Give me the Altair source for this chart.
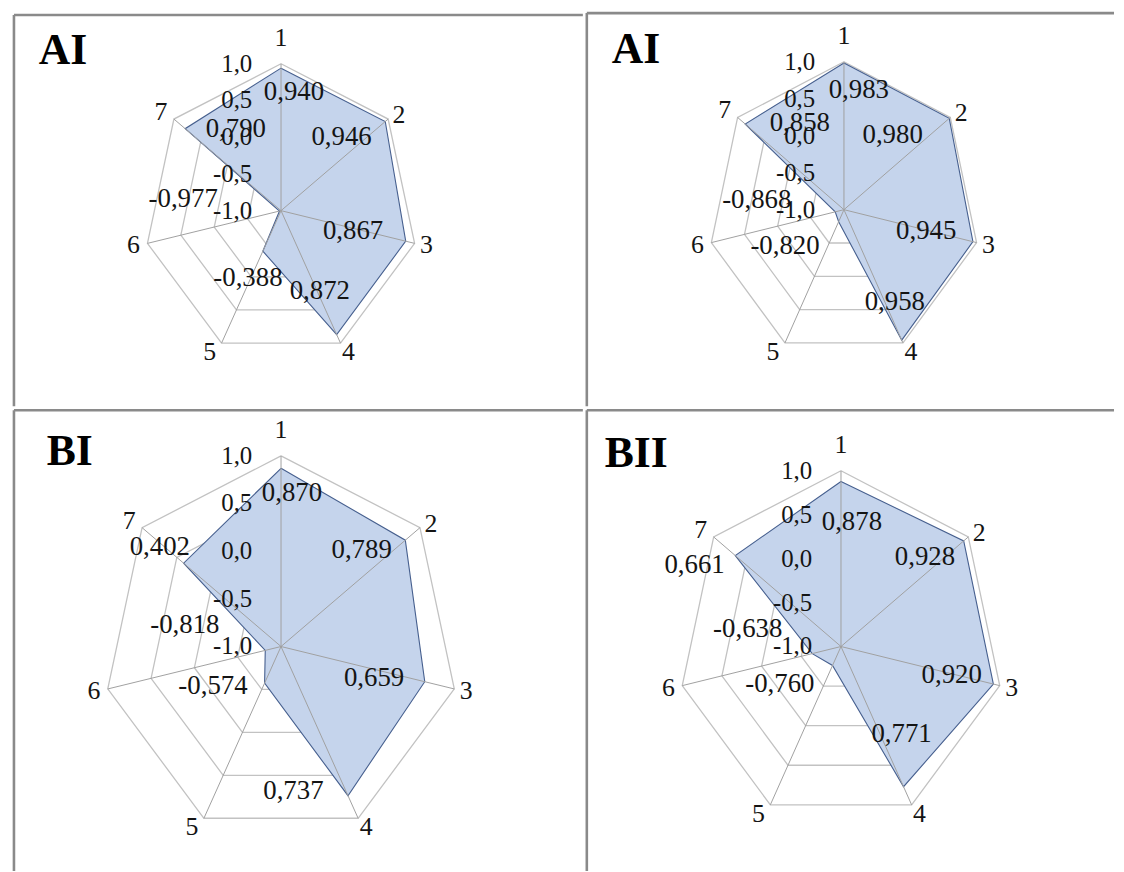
import altair as alt
import pandas as pd

# ---------------- data ----------------
axes = [1, 2, 3, 4, 5, 6, 7]
ring_values = [-0.5, 0.0, 0.5, 1.0]
tick_values = [1.0, 0.5, 0.0, -0.5, -1.0]
panel_titles = ["AI", "AI", "BI", "BII"]

values_p1 = [0.940, 0.946, 0.867, 0.872, -0.388, -0.977, 0.790]
values_p2 = [0.983, 0.980, 0.945, 0.958, -0.820, -0.868, 0.858]
values_p3 = [0.870, 0.789, 0.659, 0.737, -0.574, -0.818, 0.402]
values_p4 = [0.878, 0.928, 0.920, 0.771, -0.760, -0.638, 0.661]

# ---------------- layout / style ----------------
# pixel nudges of the data labels from their points (dx, dy)
nudge_p1 = [(13, 24), (-44, 16), (-53, -10), (-17, -44), (-15, 27), (-97, -12), (51, 0)]
nudge_p2 = [(15, 27), (-57, 17), (-47, -11), (-7, -38), (-54, 25), (-79, -12), (55, -1)]
nudge_p3 = [(11, 25), (-44, 10), (-51, -4), (-55, -5), (-52, 3), (-81, -26), (-24, -16)]
nudge_p4 = [(11, 41), (-39, 16), (-42, -9), (-2, -53), (-53, 19), (-65, -25), (-41, 10)]
# pixel nudges of the category labels from the outer vertices
cat_nudge = [(0, -26), (11, -4), (12, 2), (8, 9), (-12, 9), (-14, 2), (-13, -7)]

# W, H, cx, cy, rx, ry, top border y, left border start
geom_p1 = (573, 396, 269, 199, 138, 148, 2, 2)
geom_p2 = (531, 396, 259, 198, 137, 149, 0, 0)
geom_p3 = (573, 464, 269, 238, 179, 192, 0, 0)
geom_p4 = (531, 464, 256, 238, 164, 177, 0, 0)
title_pos = [(25, 51), (25, 50), (33, 55), (18, 57)]

FONT = "Liberation Serif"
TXT = "#141414"
FILL = "#c5d4ec"
OUTLINE = "#465f8e"
RING = "#c2c2c2"
SPOKE = "#a0a0a0"
BORDER = "#8a8a8a"


def fmt(v, n):
    return f"{v:.{n}f}".replace(".", ",")


def panel(values, nudges, title, tpos, geom):
    W, H, cx, cy, rx, ry, top_y, left_y = geom
    xs = alt.Scale(domain=[-cx / rx, (W - cx) / rx], nice=False, zero=False)
    ys = alt.Scale(domain=[-(H - cy) / ry, cy / ry], nice=False, zero=False)

    def X(f):
        return alt.X(f, type="quantitative", scale=xs, axis=None)

    def Y(f):
        return alt.Y(f, type="quantitative", scale=ys, axis=None)

    ang = "(datum.axis-1)*2*PI/7"

    # rings
    ring_rows = []
    for rv in ring_values:
        for j in range(8):
            ring_rows.append({"ring": rv, "axis": axes[j % 7], "ord": j})
    rings = (
        alt.Chart(pd.DataFrame(ring_rows))
        .transform_calculate(r="(datum.ring+1)/2", a=ang)
        .transform_calculate(x="datum.r*sin(datum.a)", y="datum.r*cos(datum.a)")
        .mark_line(color=RING, strokeWidth=1.3)
        .encode(x=X("x"), y=Y("y"), detail="ring:N", order="ord:Q")
    )

    # data polygon
    poly_rows = [{"axis": axes[j % 7], "value": values[j % 7], "ord": j} for j in range(8)]
    poly = (
        alt.Chart(pd.DataFrame(poly_rows))
        .transform_calculate(r="(datum.value+1)/2", a=ang)
        .transform_calculate(x="datum.r*sin(datum.a)", y="datum.r*cos(datum.a)")
        .mark_line(color=OUTLINE, fill=FILL, fillOpacity=1, strokeWidth=1.1)
        .encode(x=X("x"), y=Y("y"), order="ord:Q")
    )

    # spokes
    spokes = (
        alt.Chart(pd.DataFrame({"axis": axes}))
        .transform_calculate(a=ang, x0="0", y0="0")
        .transform_calculate(x1="sin(datum.a)", y1="cos(datum.a)")
        .mark_rule(color=SPOKE, strokeWidth=1)
        .encode(x=X("x0"), y=Y("y0"), x2="x1:Q", y2="y1:Q")
    )

    # value axis tick labels along axis 1
    ticks = (
        alt.Chart(pd.DataFrame({"t": tick_values, "lab": [fmt(t, 1) for t in tick_values]}))
        .transform_calculate(x="0", y="(datum.t+1)/2")
        .mark_text(align="right", baseline="middle", dx=-29, font=FONT, fontSize=25, color=TXT)
        .encode(x=X("x"), y=Y("y"), text="lab:N")
    )

    # category labels
    cats = (
        alt.Chart(pd.DataFrame({
            "axis": axes,
            "lab": [str(a) for a in axes],
            "ndx": [n[0] for n in cat_nudge],
            "ndy": [n[1] for n in cat_nudge],
        }))
        .transform_calculate(a=ang)
        .transform_calculate(
            x=f"sin(datum.a)+datum.ndx/{rx}",
            y=f"cos(datum.a)-datum.ndy/{ry}",
        )
        .mark_text(align="center", baseline="middle", font=FONT, fontSize=26, color=TXT)
        .encode(x=X("x"), y=Y("y"), text="lab:N")
    )

    # data labels
    dl = (
        alt.Chart(pd.DataFrame({
            "axis": axes,
            "value": values,
            "lab": [fmt(v, 3) for v in values],
            "ndx": [n[0] for n in nudges],
            "ndy": [n[1] for n in nudges],
        }))
        .transform_calculate(r="(datum.value+1)/2", a=ang)
        .transform_calculate(
            x=f"datum.r*sin(datum.a)+datum.ndx/{rx}",
            y=f"datum.r*cos(datum.a)-datum.ndy/{ry}",
        )
        .mark_text(align="center", baseline="middle", font=FONT, fontSize=27, color=TXT)
        .encode(x=X("x"), y=Y("y"), text="lab:N")
    )

    one = pd.DataFrame({"t": [title]})
    ttl = (
        alt.Chart(one)
        .mark_text(align="left", baseline="alphabetic", font=FONT, fontSize=44,
                   fontWeight="bold", color="#000000")
        .encode(x=alt.value(tpos[0]), y=alt.value(tpos[1]), text="t:N")
    )
    left_b = alt.Chart(one).mark_rule(color=BORDER, strokeWidth=2.6).encode(
        x=alt.value(0), y=alt.value(left_y), y2=alt.value(H))
    top_b = alt.Chart(one).mark_rule(color=BORDER, strokeWidth=2.6).encode(
        x=alt.value(0), x2=alt.value(W), y=alt.value(top_y))

    return alt.layer(rings, poly, spokes, ticks, cats, dl, ttl, left_b, top_b).properties(
        width=W, height=H)


p1 = panel(values_p1, nudge_p1, panel_titles[0], title_pos[0], geom_p1)
p2 = panel(values_p2, nudge_p2, panel_titles[1], title_pos[1], geom_p2)
p3 = panel(values_p3, nudge_p3, panel_titles[2], title_pos[2], geom_p3)
p4 = panel(values_p4, nudge_p4, panel_titles[3], title_pos[3], geom_p4)

row1 = alt.hconcat(p1, p2, spacing=0)
row2 = alt.hconcat(p3, p4, spacing=0)
chart = (
    alt.vconcat(row1, row2, spacing=0)
    .properties(padding={"left": 4, "top": 0, "right": 0, "bottom": 0}, background="white")
    .configure_view(stroke=None)
    .configure_concat(spacing=0)
)

chart.save("out.html", embed_options={"renderer": "svg", "actions": False})
